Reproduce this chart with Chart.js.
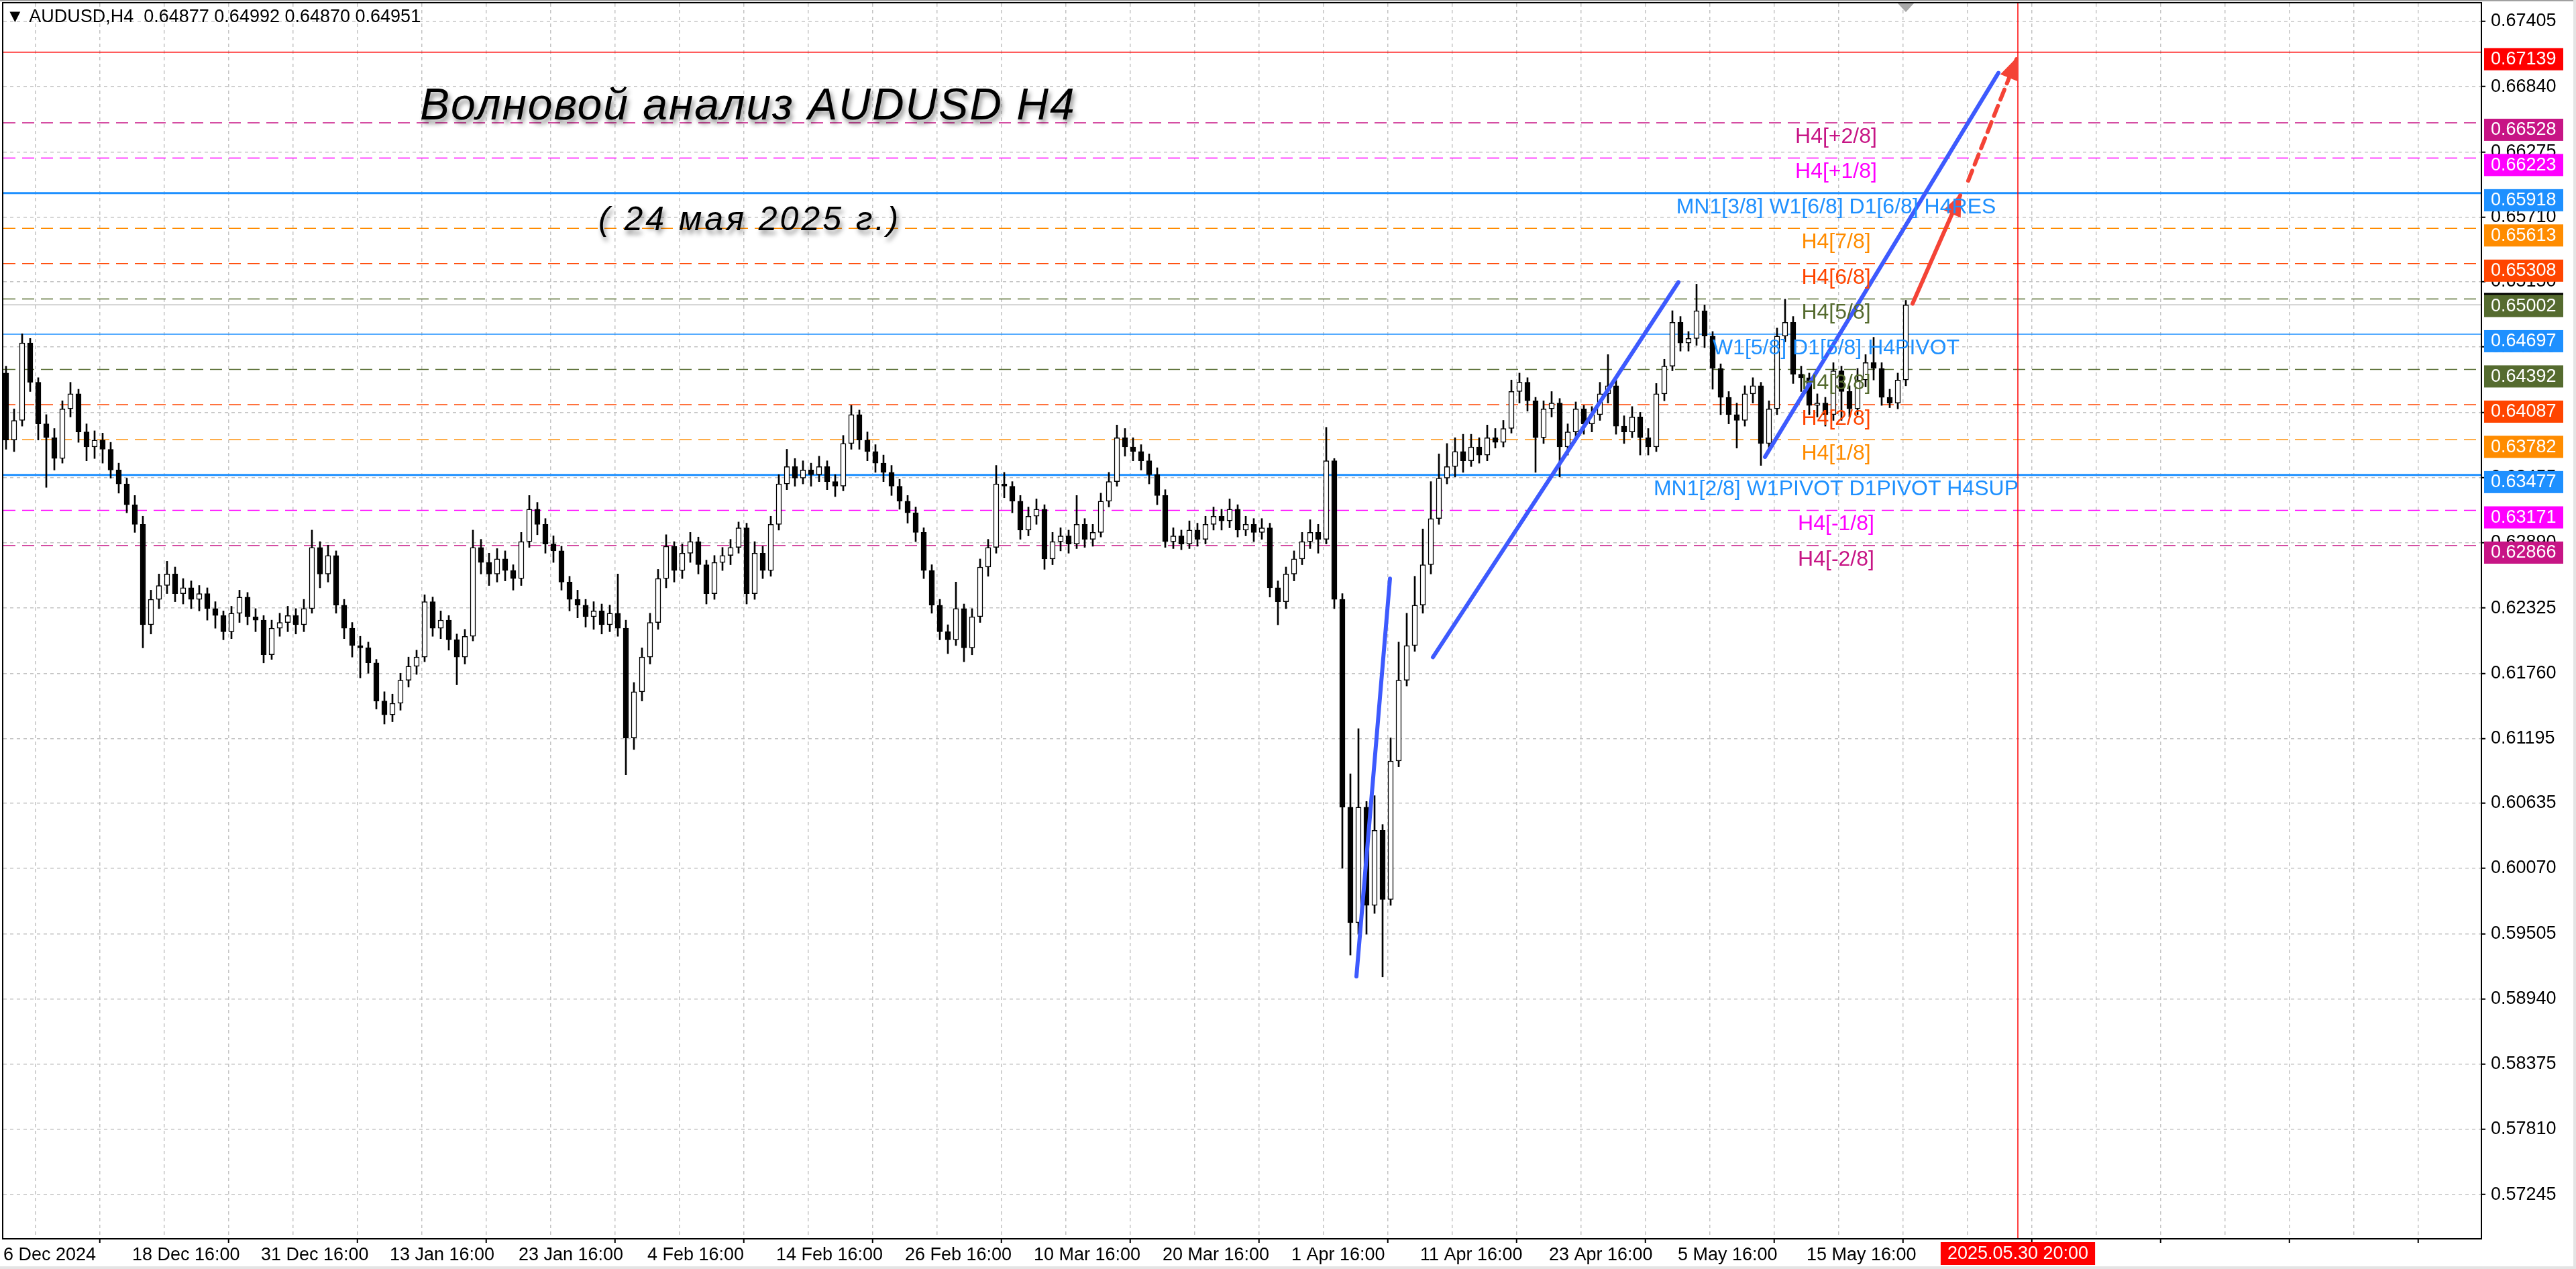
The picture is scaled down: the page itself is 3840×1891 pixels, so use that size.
<!DOCTYPE html>
<html>
<head>
<meta charset="utf-8">
<script src="https://cdn.jsdelivr.net/npm/chart.js@4.4.1/dist/chart.umd.min.js"></script>
<style>
  html, body { margin: 0; padding: 0; background: #fff; overflow: hidden; }
  canvas { display: block; }
</style>
</head>
<body>
<canvas id="chart" width="3840" height="1891" style="width:3840px;height:1891px"></canvas>
<script>
// AUDUSD H4; one candle = three H4 bars (12 hours)
const slotStart = 1;
const slotStep = 3;

const opens = [
  0.6436, 0.6378, 0.6395, 0.6462, 0.6428, 0.6392, 0.6380, 0.6362, 0.6405, 0.6418,
  0.6385, 0.6372, 0.6378, 0.6370, 0.6352, 0.6340, 0.6322, 0.6305, 0.6218, 0.6240,
  0.6252, 0.6262, 0.6245, 0.6250, 0.6240, 0.6245, 0.6232, 0.6226, 0.6212, 0.6228,
  0.6242, 0.6225, 0.6222, 0.6192, 0.6215, 0.6220, 0.6226, 0.6218, 0.6232, 0.6285,
  0.6262, 0.6278, 0.6235, 0.6215, 0.6200, 0.6198, 0.6185, 0.6152, 0.6140, 0.6150,
  0.6170, 0.6182, 0.6190, 0.6238, 0.6215, 0.6222, 0.6205, 0.6190, 0.6208, 0.6285,
  0.6272, 0.6262, 0.6275, 0.6265, 0.6258, 0.6290, 0.6318, 0.6305, 0.6288, 0.6282,
  0.6255, 0.6240, 0.6235, 0.6225, 0.6230, 0.6218, 0.6228, 0.6215, 0.6120, 0.6160,
  0.6190, 0.6220, 0.6258, 0.6286, 0.6265, 0.6280, 0.6290, 0.6270, 0.6245, 0.6272,
  0.6278, 0.6285, 0.6302, 0.6245, 0.6280, 0.6265, 0.6305, 0.6340, 0.6355, 0.6345,
  0.6352, 0.6348, 0.6355, 0.6342, 0.6338, 0.6375, 0.6400, 0.6378, 0.6368, 0.6358,
  0.6350, 0.6338, 0.6325, 0.6315, 0.6298, 0.6265, 0.6235, 0.6212, 0.6205, 0.6232,
  0.6198, 0.6225, 0.6268, 0.6285, 0.6340, 0.6338, 0.6325, 0.6300, 0.6312, 0.6318,
  0.6275, 0.6290, 0.6295, 0.6288, 0.6305, 0.6292, 0.6298, 0.6325, 0.6342, 0.6380,
  0.6372, 0.6368, 0.6360, 0.6348, 0.6330, 0.6290, 0.6295, 0.6288, 0.6300, 0.6292,
  0.6305, 0.6312, 0.6308, 0.6318, 0.6300, 0.6305, 0.6298, 0.6302, 0.6250, 0.6238,
  0.6262, 0.6275, 0.6290, 0.6298, 0.6292, 0.6360, 0.6240, 0.6060, 0.5960, 0.6060,
  0.5975, 0.6040, 0.5980, 0.6100, 0.6170, 0.6200, 0.6235, 0.6270, 0.6310, 0.6345,
  0.6355, 0.6368, 0.6360, 0.6372, 0.6365, 0.6380, 0.6376, 0.6388, 0.6420, 0.6428,
  0.6412, 0.6380, 0.6405, 0.6410, 0.6372, 0.6385, 0.6405, 0.6392, 0.6400, 0.6418,
  0.6425, 0.6390, 0.6385, 0.6398, 0.6380, 0.6372, 0.6418, 0.6442, 0.6480, 0.6462,
  0.6466, 0.6490, 0.6468, 0.6440, 0.6415, 0.6400, 0.6395, 0.6418, 0.6425, 0.6375,
  0.6405, 0.6468, 0.6480, 0.6435, 0.6432, 0.6408, 0.6410, 0.6400, 0.6438, 0.6420,
  0.6405, 0.6430, 0.6445, 0.6440, 0.6415, 0.6410, 0.6430
];
const highs = [
  0.6442, 0.6405, 0.6470, 0.6466, 0.6432, 0.6400, 0.6388, 0.6412, 0.6428, 0.6422,
  0.6392, 0.6386, 0.6384, 0.6376, 0.6358, 0.6345, 0.6330, 0.6312, 0.6248, 0.6262,
  0.6273, 0.6268, 0.6258, 0.6256, 0.6252, 0.6250, 0.6238, 0.6230, 0.6234, 0.6248,
  0.6246, 0.6232, 0.6226, 0.6222, 0.6228, 0.6234, 0.6232, 0.6240, 0.6300, 0.6290,
  0.6287, 0.6282, 0.6240, 0.6220, 0.6208, 0.6203, 0.6188, 0.6160, 0.6158, 0.6176,
  0.6190, 0.6196, 0.6244, 0.6242, 0.6230, 0.6226, 0.6210, 0.6214, 0.6300, 0.6292,
  0.6280, 0.6284, 0.6282, 0.6270, 0.6298, 0.6330, 0.6324, 0.6310, 0.6295, 0.6286,
  0.6260, 0.6248, 0.6240, 0.6238, 0.6236, 0.6235, 0.6262, 0.6222, 0.6168, 0.6198,
  0.6228, 0.6266, 0.6296, 0.6290, 0.6288, 0.6298, 0.6294, 0.6274, 0.6278, 0.6285,
  0.6292, 0.6307, 0.6306, 0.6290, 0.6286, 0.6312, 0.6348, 0.6370, 0.6362, 0.6360,
  0.6358, 0.6364, 0.6360, 0.6348, 0.6382, 0.6408, 0.6404, 0.6385, 0.6374, 0.6365,
  0.6356, 0.6344, 0.6330, 0.6320, 0.6302, 0.6270, 0.6240, 0.6218, 0.6255, 0.6236,
  0.6232, 0.6275, 0.6292, 0.6356, 0.6350, 0.6342, 0.6330, 0.6320, 0.6327, 0.6322,
  0.6298, 0.6302, 0.6300, 0.6330, 0.6310, 0.6305, 0.6332, 0.6350, 0.6391, 0.6388,
  0.6380, 0.6374, 0.6366, 0.6354, 0.6335, 0.6302, 0.6300, 0.6308, 0.6306, 0.6312,
  0.6320, 0.6318, 0.6327, 0.6322, 0.6312, 0.6310, 0.6310, 0.6306, 0.6256, 0.6268,
  0.6282, 0.6298, 0.6309, 0.6305, 0.6389, 0.6362, 0.6245, 0.6089, 0.6128, 0.6065,
  0.6070, 0.6045, 0.6120, 0.6203, 0.6228, 0.6260, 0.6301, 0.6342, 0.6366, 0.6375,
  0.6380, 0.6383, 0.6383, 0.6380, 0.6391, 0.6388, 0.6395, 0.6430, 0.6436, 0.6432,
  0.6415, 0.6412, 0.6420, 0.6414, 0.6392, 0.6411, 0.6408, 0.6407, 0.6428, 0.6452,
  0.6430, 0.6399, 0.6407, 0.6402, 0.6388, 0.6427, 0.6448, 0.6490, 0.6485, 0.6472,
  0.6513, 0.6495, 0.6472, 0.6444, 0.6420, 0.6410, 0.6425, 0.6432, 0.6428, 0.6412,
  0.6475, 0.6500, 0.6485, 0.6442, 0.6436, 0.6418, 0.6415, 0.6445, 0.6442, 0.6425,
  0.6440, 0.6452, 0.6467, 0.6445, 0.6422, 0.6436, 0.6499
];
const lows = [
  0.6370, 0.6368, 0.6390, 0.6420, 0.6378, 0.6337, 0.6352, 0.6358, 0.6398, 0.6376,
  0.6360, 0.6362, 0.6358, 0.6345, 0.6332, 0.6315, 0.6298, 0.6198, 0.6210, 0.6232,
  0.6245, 0.6238, 0.6236, 0.6232, 0.6230, 0.6222, 0.6215, 0.6205, 0.6206, 0.6220,
  0.6218, 0.6212, 0.6185, 0.6188, 0.6208, 0.6212, 0.6210, 0.6212, 0.6228, 0.6250,
  0.6255, 0.6228, 0.6206, 0.6190, 0.6172, 0.6176, 0.6145, 0.6132, 0.6134, 0.6144,
  0.6164, 0.6175, 0.6186, 0.6208, 0.6206, 0.6196, 0.6166, 0.6184, 0.6204, 0.6262,
  0.6252, 0.6255, 0.6256, 0.6248, 0.6252, 0.6285, 0.6296, 0.6280, 0.6272, 0.6248,
  0.6230, 0.6224, 0.6216, 0.6214, 0.6210, 0.6212, 0.6208, 0.6088, 0.6110, 0.6152,
  0.6184, 0.6214, 0.6250, 0.6255, 0.6258, 0.6272, 0.6262, 0.6236, 0.6240, 0.6265,
  0.6270, 0.6280, 0.6236, 0.6240, 0.6258, 0.6260, 0.6300, 0.6335, 0.6338, 0.6340,
  0.6338, 0.6342, 0.6335, 0.6329, 0.6334, 0.6370, 0.6370, 0.6360, 0.6350, 0.6342,
  0.6330, 0.6318, 0.6306, 0.6290, 0.6258, 0.6228, 0.6205, 0.6193, 0.6200, 0.6186,
  0.6192, 0.6220, 0.6260, 0.6280, 0.6328, 0.6315, 0.6292, 0.6295, 0.6305, 0.6266,
  0.6270, 0.6282, 0.6280, 0.6284, 0.6285, 0.6286, 0.6294, 0.6320, 0.6338, 0.6364,
  0.6360, 0.6352, 0.6340, 0.6322, 0.6285, 0.6284, 0.6283, 0.6284, 0.6286, 0.6288,
  0.6300, 0.6300, 0.6302, 0.6294, 0.6295, 0.6290, 0.6292, 0.6242, 0.6218, 0.6232,
  0.6256, 0.6270, 0.6284, 0.6280, 0.6288, 0.6232, 0.6007, 0.5932, 0.5950, 0.5950,
  0.5968, 0.5913, 0.5975, 0.6095, 0.6165, 0.6195, 0.6228, 0.6262, 0.6305, 0.6340,
  0.6346, 0.6350, 0.6355, 0.6358, 0.6360, 0.6371, 0.6372, 0.6384, 0.6410, 0.6403,
  0.6350, 0.6375, 0.6398, 0.6346, 0.6365, 0.6380, 0.6383, 0.6385, 0.6395, 0.6410,
  0.6383, 0.6375, 0.6380, 0.6365, 0.6365, 0.6368, 0.6412, 0.6438, 0.6455, 0.6455,
  0.6460, 0.6458, 0.6422, 0.6400, 0.6392, 0.6371, 0.6390, 0.6410, 0.6356, 0.6370,
  0.6400, 0.6463, 0.6427, 0.6420, 0.6400, 0.6398, 0.6390, 0.6395, 0.6395, 0.6398,
  0.6400, 0.6424, 0.6430, 0.6408, 0.6406, 0.6405, 0.6425
];
const closes = [
  0.6378, 0.6395, 0.6462, 0.6428, 0.6392, 0.6380, 0.6362, 0.6405, 0.6418, 0.6385,
  0.6372, 0.6378, 0.6370, 0.6352, 0.6340, 0.6322, 0.6305, 0.6218, 0.6240, 0.6252,
  0.6262, 0.6245, 0.6250, 0.6240, 0.6245, 0.6232, 0.6226, 0.6212, 0.6228, 0.6242,
  0.6225, 0.6222, 0.6192, 0.6215, 0.6220, 0.6226, 0.6218, 0.6232, 0.6285, 0.6262,
  0.6278, 0.6235, 0.6215, 0.6200, 0.6198, 0.6185, 0.6152, 0.6140, 0.6150, 0.6170,
  0.6182, 0.6190, 0.6238, 0.6215, 0.6222, 0.6205, 0.6190, 0.6208, 0.6285, 0.6272,
  0.6262, 0.6275, 0.6265, 0.6258, 0.6290, 0.6318, 0.6305, 0.6288, 0.6282, 0.6255,
  0.6240, 0.6235, 0.6225, 0.6230, 0.6218, 0.6228, 0.6215, 0.6120, 0.6160, 0.6190,
  0.6220, 0.6258, 0.6286, 0.6265, 0.6280, 0.6290, 0.6270, 0.6245, 0.6272, 0.6278,
  0.6285, 0.6302, 0.6245, 0.6280, 0.6265, 0.6305, 0.6340, 0.6355, 0.6345, 0.6352,
  0.6348, 0.6355, 0.6342, 0.6338, 0.6375, 0.6400, 0.6378, 0.6368, 0.6358, 0.6350,
  0.6338, 0.6325, 0.6315, 0.6298, 0.6265, 0.6235, 0.6212, 0.6205, 0.6232, 0.6198,
  0.6225, 0.6268, 0.6285, 0.6340, 0.6338, 0.6325, 0.6300, 0.6312, 0.6318, 0.6275,
  0.6290, 0.6295, 0.6288, 0.6305, 0.6292, 0.6298, 0.6325, 0.6342, 0.6380, 0.6372,
  0.6368, 0.6360, 0.6348, 0.6330, 0.6290, 0.6295, 0.6288, 0.6300, 0.6292, 0.6305,
  0.6312, 0.6308, 0.6318, 0.6300, 0.6305, 0.6298, 0.6302, 0.6250, 0.6238, 0.6262,
  0.6275, 0.6290, 0.6298, 0.6292, 0.6360, 0.6240, 0.6060, 0.5960, 0.6060, 0.5975,
  0.6040, 0.5980, 0.6100, 0.6170, 0.6200, 0.6235, 0.6270, 0.6310, 0.6345, 0.6355,
  0.6368, 0.6360, 0.6372, 0.6365, 0.6380, 0.6376, 0.6388, 0.6420, 0.6428, 0.6412,
  0.6380, 0.6405, 0.6410, 0.6372, 0.6385, 0.6405, 0.6392, 0.6400, 0.6418, 0.6425,
  0.6390, 0.6385, 0.6398, 0.6380, 0.6372, 0.6418, 0.6442, 0.6480, 0.6462, 0.6466,
  0.6490, 0.6468, 0.6440, 0.6415, 0.6400, 0.6395, 0.6418, 0.6425, 0.6375, 0.6405,
  0.6468, 0.6480, 0.6435, 0.6432, 0.6408, 0.6410, 0.6400, 0.6438, 0.6420, 0.6405,
  0.6430, 0.6445, 0.6440, 0.6415, 0.6410, 0.6430, 0.6495
];

const priceTicks = [
  0.57245, 0.57810, 0.58375, 0.58940, 0.59505, 0.60070, 0.60635, 0.61195, 0.61760, 0.62325,
  0.62890, 0.63455, 0.64020, 0.64585, 0.65150, 0.65710, 0.66275, 0.66840, 0.67405
];
const dateLabels = [
  '6 Dec 2024', '18 Dec 16:00', '31 Dec 16:00', '13 Jan 16:00', '23 Jan 16:00',
  '4 Feb 16:00', '14 Feb 16:00', '26 Feb 16:00', '10 Mar 16:00', '20 Mar 16:00',
  '1 Apr 16:00', '11 Apr 16:00', '23 Apr 16:00', '5 May 16:00', '15 May 16:00'
];
const gridStep = 24;   // H4 bars between vertical grid lines

// Murrey / pivot levels
const levelPrices = [0.67139, 0.66528, 0.66223, 0.65918, 0.65613, 0.65308, 0.65002,
  0.64697, 0.64392, 0.64087, 0.63782, 0.63477, 0.63171, 0.62866];
const levelNames = ['', 'H4[+2/8]', 'H4[+1/8]', 'MN1[3/8] W1[6/8] D1[6/8] H4RES',
  'H4[7/8]', 'H4[6/8]', 'H4[5/8]', 'W1[5/8] D1[5/8] H4PIVOT', 'H4[3/8]', 'H4[2/8]',
  'H4[1/8]', 'MN1[2/8] W1PIVOT D1PIVOT H4SUP', 'H4[-1/8]', 'H4[-2/8]'];
const levelKinds = ['target', 'p2', 'p1', 'res', 'h7', 'h6', 'h5', 'pivot', 'h3', 'h2',
  'h1', 'sup', 'm1', 'm2'];
const bidPrice = 0.64951;
const labelSlot = 683;

// hand-drawn wave lines: [slot, price, slot, price]
const waveLines = [
  [504.25, 0.59135, 516.75, 0.62580],
  [532.75, 0.61899, 624.25, 0.65147],
  [656.5, 0.63634, 743.5, 0.66960]
];
const arrowLines = [
  [711.5, 0.64961, 729.25, 0.65898],
  [732.25, 0.66026, 750.25, 0.67079]
];
const futureSlot = 750.75;
const futureLabel = '2025.05.30 20:00';
const headerText = 'AUDUSD,H4  0.64877 0.64992 0.64870 0.64951';

const xMax = 923.5;
const yMin = 0.56862;
const yMax = 0.67562;

const kindStyle = {
  target: { color: '#ff0000', dash: [], width: 1.5 },
  p2: { color: '#c71585', dash: [18, 10], width: 1.5 },
  m2: { color: '#c71585', dash: [18, 10], width: 1.5 },
  p1: { color: '#ff00ff', dash: [18, 10], width: 1.5 },
  m1: { color: '#ff00ff', dash: [18, 10], width: 1.5 },
  res: { color: '#1e90ff', dash: [], width: 3 },
  pivot: { color: '#1e90ff', dash: [], width: 1.5 },
  sup: { color: '#1e90ff', dash: [], width: 3 },
  h7: { color: '#ff8c00', dash: [18, 10], width: 1.5 },
  h1: { color: '#ff8c00', dash: [18, 10], width: 1.5 },
  h6: { color: '#ff4500', dash: [18, 10], width: 1.5 },
  h2: { color: '#ff4500', dash: [18, 10], width: 1.5 },
  h5: { color: '#556b2f', dash: [18, 10], width: 1.5 },
  h3: { color: '#556b2f', dash: [18, 10], width: 1.5 }
};
const waveColor = '#3d5afe';
const arrowColor = '#f44336';
const uiFont = '"Liberation Sans", Arial, "DejaVu Sans", sans-serif';

const candleX = opens.map((o, i) => slotStart + i * slotStep);
const wickData = highs.map((h, i) => ({ x: candleX[i], y: [lows[i], h] }));
const bodyData = opens.map((o, i) => ({ x: candleX[i], y: [o, closes[i]] }));
const bodyFill = opens.map((o, i) => closes[i] >= o ? '#ffffff' : '#000000');

function flatLine(p, style, order) {
  return {
    type: 'line',
    data: [{ x: 0, y: p }, { x: xMax, y: p }],
    borderColor: style.color,
    borderWidth: style.width,
    borderDash: style.dash,
    pointRadius: 0,
    order: order
  };
}

const datasets = [];
levelPrices.forEach((p, i) => datasets.push(flatLine(p, kindStyle[levelKinds[i]], 20)));
datasets.push(flatLine(bidPrice, { color: '#c0c0c0', dash: [], width: 1.5 }, 19));
datasets.push({
  type: 'line',
  data: [{ x: futureSlot, y: yMin }, { x: futureSlot, y: yMax }],
  borderColor: '#ff0000', borderWidth: 1.5, pointRadius: 0, order: 18
});
datasets.push({
  type: 'bar', data: wickData, backgroundColor: '#000000',
  barThickness: 2, grouped: false, order: 6
});
datasets.push({
  type: 'bar', data: bodyData, backgroundColor: bodyFill,
  borderColor: '#000000', borderWidth: 1.5, borderSkipped: false,
  barThickness: 8, minBarLength: 2, grouped: false, order: 5
});
waveLines.forEach(l => datasets.push({
  type: 'line',
  data: [{ x: l[0], y: l[1] }, { x: l[2], y: l[3] }],
  borderColor: waveColor, borderWidth: 6, borderCapStyle: 'round',
  pointRadius: 0, order: 2
}));
arrowLines.forEach((l, i) => datasets.push({
  type: 'line',
  data: [{ x: l[0], y: l[1] }, { x: l[2], y: l[3] }],
  borderColor: arrowColor, borderWidth: 6, borderCapStyle: 'round',
  borderDash: i === 1 ? [16, 10] : [],
  pointRadius: 0, order: 1
}));

function arrowHead(ctx, x1, y1, x2, y2) {
  const a = Math.atan2(y2 - y1, x2 - x1);
  ctx.save();
  ctx.translate(x2, y2);
  ctx.rotate(a);
  ctx.beginPath();
  ctx.moveTo(4, 0);
  ctx.lineTo(-30, -14);
  ctx.lineTo(-30, 14);
  ctx.closePath();
  ctx.fillStyle = arrowColor;
  ctx.fill();
  ctx.restore();
}

// MT4 draws the price tag a little below its line
function priceBox(ctx, area, y, text, fill) {
  ctx.fillStyle = fill;
  ctx.fillRect(area.right + 4, y - 6, 118, 33);
  ctx.fillStyle = '#ffffff';
  ctx.textAlign = 'left';
  ctx.textBaseline = 'middle';
  ctx.fillText(text, area.right + 14, y + 11);
}

const overlay = {
  id: 'overlay',
  beforeDraw(chart) {
    const ctx = chart.ctx;
    ctx.save();
    ctx.fillStyle = '#ffffff';
    ctx.fillRect(0, 0, chart.width, chart.height);
    ctx.restore();
  },
  afterDatasetsDraw(chart) {
    const ctx = chart.ctx;
    const xs = chart.scales.x, ys = chart.scales.y;
    ctx.save();
    arrowLines.forEach(l => arrowHead(ctx,
      xs.getPixelForValue(l[0]), ys.getPixelForValue(l[1]),
      xs.getPixelForValue(l[2]), ys.getPixelForValue(l[3])));
    ctx.font = '32px ' + uiFont;
    ctx.textAlign = 'center';
    ctx.textBaseline = 'alphabetic';
    levelPrices.forEach((p, i) => {
      if (!levelNames[i]) return;
      ctx.fillStyle = kindStyle[levelKinds[i]].color;
      ctx.fillText(levelNames[i], xs.getPixelForValue(labelSlot), ys.getPixelForValue(p) + 30);
    });
    ctx.restore();
  },
  afterDraw(chart) {
    const ctx = chart.ctx;
    const area = chart.chartArea;
    const xs = chart.scales.x, ys = chart.scales.y;
    ctx.save();

    // frame of the chart window
    ctx.strokeStyle = '#000000';
    ctx.lineWidth = 2;
    ctx.strokeRect(area.left - 1, area.top - 1, area.right - area.left + 1, area.bottom - area.top + 1);
    ctx.fillStyle = '#a0a0a0';
    ctx.fillRect(0, 0, chart.width, 2);
    ctx.fillStyle = '#e4e4e4';
    ctx.fillRect(chart.width - 4, 0, 4, chart.height);
    ctx.fillRect(0, chart.height - 4, chart.width, 4);

    // chart shift marker
    const sx = xs.getPixelForValue(candleX[candleX.length - 1]);
    ctx.fillStyle = '#a8a8a8';
    ctx.beginPath();
    ctx.moveTo(sx - 12, area.top);
    ctx.lineTo(sx + 12, area.top);
    ctx.lineTo(sx, area.top + 13);
    ctx.closePath();
    ctx.fill();

    // price tags on the right scale (bid tag peeks out above the 0.65002 one)
    ctx.font = '27px ' + uiFont;
    ctx.fillStyle = '#000000';
    ctx.fillRect(area.right + 4, ys.getPixelForValue(levelPrices[6]) - 9, 118, 4);
    levelPrices.forEach((p, i) => {
      priceBox(ctx, area, ys.getPixelForValue(p), p.toFixed(5), kindStyle[levelKinds[i]].color);
    });

    // future time marker
    const fx = xs.getPixelForValue(futureSlot);
    ctx.font = '27px ' + uiFont;
    const fw = ctx.measureText(futureLabel).width + 20;
    ctx.fillStyle = '#ff0000';
    ctx.fillRect(fx - fw / 2, area.bottom + 5, fw, 34);
    ctx.fillStyle = '#ffffff';
    ctx.textAlign = 'center';
    ctx.textBaseline = 'middle';
    ctx.fillText(futureLabel, fx, area.bottom + 23);

    // header line
    ctx.fillStyle = '#000000';
    ctx.textAlign = 'left';
    ctx.font = '27px ' + uiFont;
    ctx.fillText('\u25BC ' + headerText, area.left + 4, area.top + 21);

    // titles
    ctx.shadowColor = 'rgba(0,0,0,0.45)';
    ctx.shadowBlur = 7;
    ctx.shadowOffsetX = 3;
    ctx.shadowOffsetY = 6;
    ctx.textBaseline = 'alphabetic';
    ctx.font = 'italic 66px ' + uiFont;
    ctx.letterSpacing = '2px';
    ctx.fillText('Волновой анализ AUDUSD H4', 626, 178);
    ctx.font = 'italic 50px ' + uiFont;
    ctx.letterSpacing = '4px';
    ctx.fillText('( 24 мая 2025 г.)', 892, 343);
    ctx.restore();
  }
};

new Chart(document.getElementById('chart'), {
  type: 'bar',
  data: { datasets: datasets },
  options: {
    responsive: false,
    animation: false,
    devicePixelRatio: 1,
    layout: { padding: { left: 5, top: 5, right: 0, bottom: 0 } },
    plugins: { legend: { display: false }, tooltip: { enabled: false } },
    scales: {
      x: {
        type: 'linear',
        min: 0,
        max: xMax,
        offset: false,
        grid: {
          color: '#c4c4c4',
          lineWidth: 1.5,
          drawTicks: true,
          tickLength: 6,
          tickWidth: 2,
          tickColor: c => (c.index % 2 === 0 ? '#000000' : 'rgba(0,0,0,0)')
        },
        border: { display: true, color: '#000000', width: 2, dash: [5, 5] },
        afterBuildTicks: s => {
          s.ticks = [];
          for (let v = 0; v <= xMax; v += gridStep) s.ticks.push({ value: v });
        },
        ticks: {
          autoSkip: false,
          maxRotation: 0,
          minRotation: 0,
          align: 'start',
          padding: 2,
          color: '#000000',
          font: { family: uiFont, size: 27 },
          callback: v => {
            const k = Math.round(v / gridStep);
            return k % 2 === 0 && dateLabels[k / 2] ? dateLabels[k / 2] : '';
          }
        },
        afterFit: s => { s.height = 45; s.paddingLeft = 0; s.paddingRight = 0; }
      },
      y: {
        type: 'linear',
        position: 'right',
        min: yMin,
        max: yMax,
        grid: {
          color: '#c4c4c4',
          lineWidth: 1.5,
          drawTicks: true,
          tickLength: 6,
          tickWidth: 2,
          tickColor: '#000000'
        },
        border: { display: true, color: '#000000', width: 2, dash: [5, 5] },
        afterBuildTicks: s => { s.ticks = priceTicks.map(v => ({ value: v })); },
        ticks: {
          autoSkip: false,
          padding: 8,
          color: '#000000',
          font: { family: uiFont, size: 27 },
          callback: v => v.toFixed(5)
        },
        afterFit: s => { s.width = 141; s.paddingTop = 0; s.paddingBottom = 0; }
      }
    }
  },
  plugins: [overlay]
});
</script>
</body>
</html>
